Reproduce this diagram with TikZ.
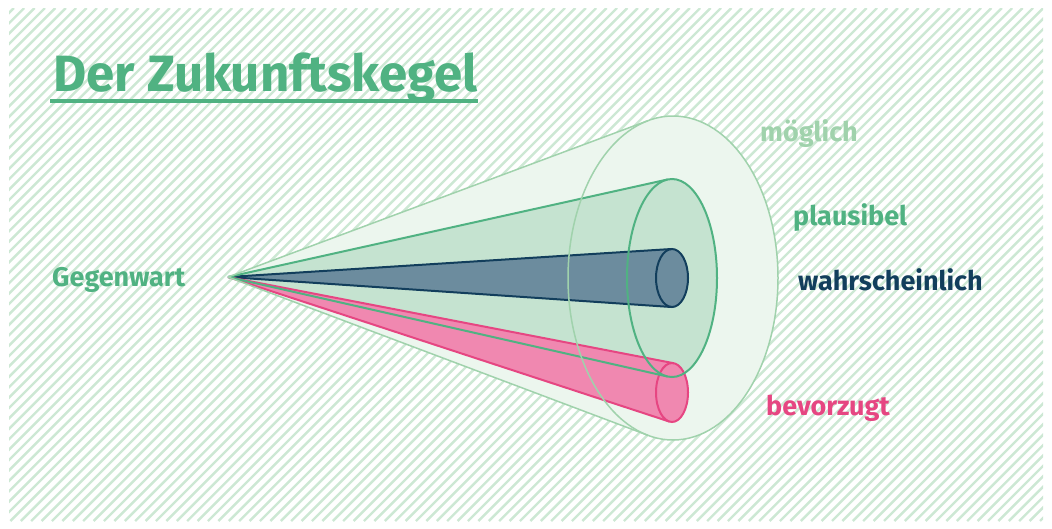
\documentclass[tikz,border=0pt]{standalone}
\usepackage{fontspec}
\setmainfont{Fira Sans}
\usepackage{tikz}
\definecolor{hatchink}{RGB}{205, 232, 212}
\definecolor{moeglink}{RGB}{160, 210, 172}
\definecolor{moeglfill}{RGB}{236, 246, 238}
\definecolor{plausink}{RGB}{80, 178, 130}
\definecolor{plausfill}{RGB}{197, 227, 208}
\definecolor{wahrink}{RGB}{18, 62, 92}
\definecolor{wahrfill}{RGB}{108, 140, 158}
\definecolor{bevink}{RGB}{230, 70, 130}
\definecolor{bevfill}{RGB}{240, 136, 176}

\begin{document}
\begin{tikzpicture}[x=1pt, y=-1pt,
  tag/.style={font=\bfseries\fontsize{27}{30}\selectfont, anchor=base west, inner sep=0pt}]
  \useasboundingbox (0,0) rectangle (1052,528);
  % stripes behind everything
  \begin{scope}
    \clip (9,8) rectangle (1043,521);
    \foreach \k in {-50,...,101}
      \draw[hatchink, line width=2.4pt] ({\k*10.4},521) -- ({\k*10.4+513},8);
  \end{scope}
  \node[tag, plausink, font=\bfseries\fontsize{51}{56}\selectfont] (titel) at (53,91) {Der Zukunftskegel};
  \draw[plausink, line width=4.5pt] (titel.base west) ++(-3,10) -- ++(428,0);
  \coordinate (jetzt) at (228,277);
  % fills
  \fill[moeglfill] (jetzt) -- (648.2,120.6) -- (648.2,435.4) -- cycle;
  \fill[moeglfill] (673,278) ellipse (105 and 162);
  \fill[plausfill] (jetzt) -- (667.4,179.5) -- (667.4,376.5) -- cycle;
  \fill[plausfill] (672,278) ellipse (45 and 99);
  \fill[wahrfill] (jetzt) -- (671.4,249) -- (671.4,307) -- cycle;
  \fill[wahrfill] (672,278) ellipse (16 and 29);
  \fill[bevfill] (jetzt) -- (673.7,363.2) -- (669.2,421.5) -- cycle;
  \fill[bevfill] (672,392.5) ellipse (16 and 29.5);
  % outlines
  \draw[wahrink, line width=2pt] (jetzt) -- (671.4,249) (jetzt) -- (671.4,307);
  \draw[wahrink, line width=2pt] (672,278) ellipse (16 and 29);
  \draw[bevink, line width=2pt] (jetzt) -- (673.7,363.2) (jetzt) -- (669.2,421.5);
  \draw[bevink, line width=2pt] (672,392.5) ellipse (16 and 29.5);
  \draw[plausink, line width=2pt] (jetzt) -- (667.4,179.5) (jetzt) -- (667.4,376.5);
  \draw[plausink, line width=2pt] (672,278) ellipse (45 and 99);
  \draw[moeglink, line width=1.5pt] (jetzt) -- (648.2,120.6) (jetzt) -- (648.2,435.4);
  \draw[moeglink, line width=1.5pt] (673,278) ellipse (105 and 162);
  % labels
  \node[tag, plausink] (gegenwart) at (52,286) {Gegenwart};
  \node[tag, moeglink] (moeglich) at (760,141) {möglich};
  \node[tag, plausink] (plausibel) at (793,225) {plausibel};
  \node[tag, wahrink] (wahrsch) at (798,290) {wahrscheinlich};
  \node[tag, bevink] (bevorzugt) at (766,415) {bevorzugt};
\end{tikzpicture}
\end{document}
